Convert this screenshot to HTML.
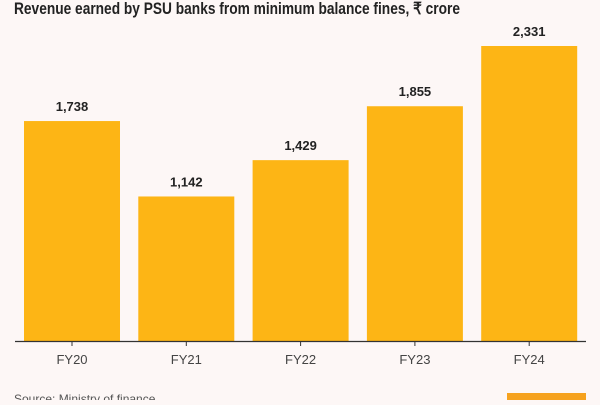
<!DOCTYPE html>
<html><head><meta charset="utf-8"><style>
body{margin:0;width:600px;height:400px;overflow:hidden;background:#fdf7f6;font-family:"Liberation Sans","Noto Sans CJK SC",sans-serif;}
</style></head><body>
<svg width="600" height="400" xmlns="http://www.w3.org/2000/svg">
<text x="14" y="14" font-size="16.5" font-weight="bold" fill="#222" textLength="446" lengthAdjust="spacingAndGlyphs">Revenue earned by PSU banks from minimum balance fines, ₹ crore</text>
<g id="bars"></g>
<line x1="15" x2="586" y1="341.5" y2="341.5" stroke="#333" stroke-width="1.2"/>
<text x="14" y="403" font-size="12" fill="#555">Source: Ministry of finance</text>
<rect x="507" y="393" width="79" height="10" fill="#f6a21e"/>
</svg>
<script>
const categories=["FY20","FY21","FY22","FY23","FY24"];
const values=[1738,1142,1429,1855,2331];
const labels=["1,738","1,142","1,429","1,855","2,331"];
const ns="http://www.w3.org/2000/svg";
const g=document.getElementById('bars');
const base=341, scale=295/2331;
function xc(i){return 72+i*114.3;}
function y(v){return base-v*scale;}
categories.forEach((c,i)=>{
  const r=document.createElementNS(ns,'rect');
  r.setAttribute('x',xc(i)-48);r.setAttribute('width',96);
  r.setAttribute('y',y(values[i]));r.setAttribute('height',base-y(values[i]));
  r.setAttribute('fill','#fdb515');
  
  
  g.appendChild(r);
  const t=document.createElementNS(ns,'text');
  t.setAttribute('x',xc(i));t.setAttribute('y',y(values[i])-10);
  t.setAttribute('text-anchor','middle');t.setAttribute('font-size','13');t.setAttribute('font-weight','bold');t.setAttribute('fill','#222');
  t.textContent=labels[i];
  
  
  g.appendChild(t);
  const tk=document.createElementNS(ns,'line');
  tk.setAttribute('x1',xc(i));tk.setAttribute('x2',xc(i));tk.setAttribute('y1',341);tk.setAttribute('y2',346);tk.setAttribute('stroke','#333');
  
  
  g.appendChild(tk);
  const l=document.createElementNS(ns,'text');
  l.setAttribute('x',xc(i));l.setAttribute('y',364);l.setAttribute('text-anchor','middle');l.setAttribute('font-size','13');l.setAttribute('fill','#444');
  l.textContent=c;
  
  
  g.appendChild(l);
});
</script>
</body></html>
